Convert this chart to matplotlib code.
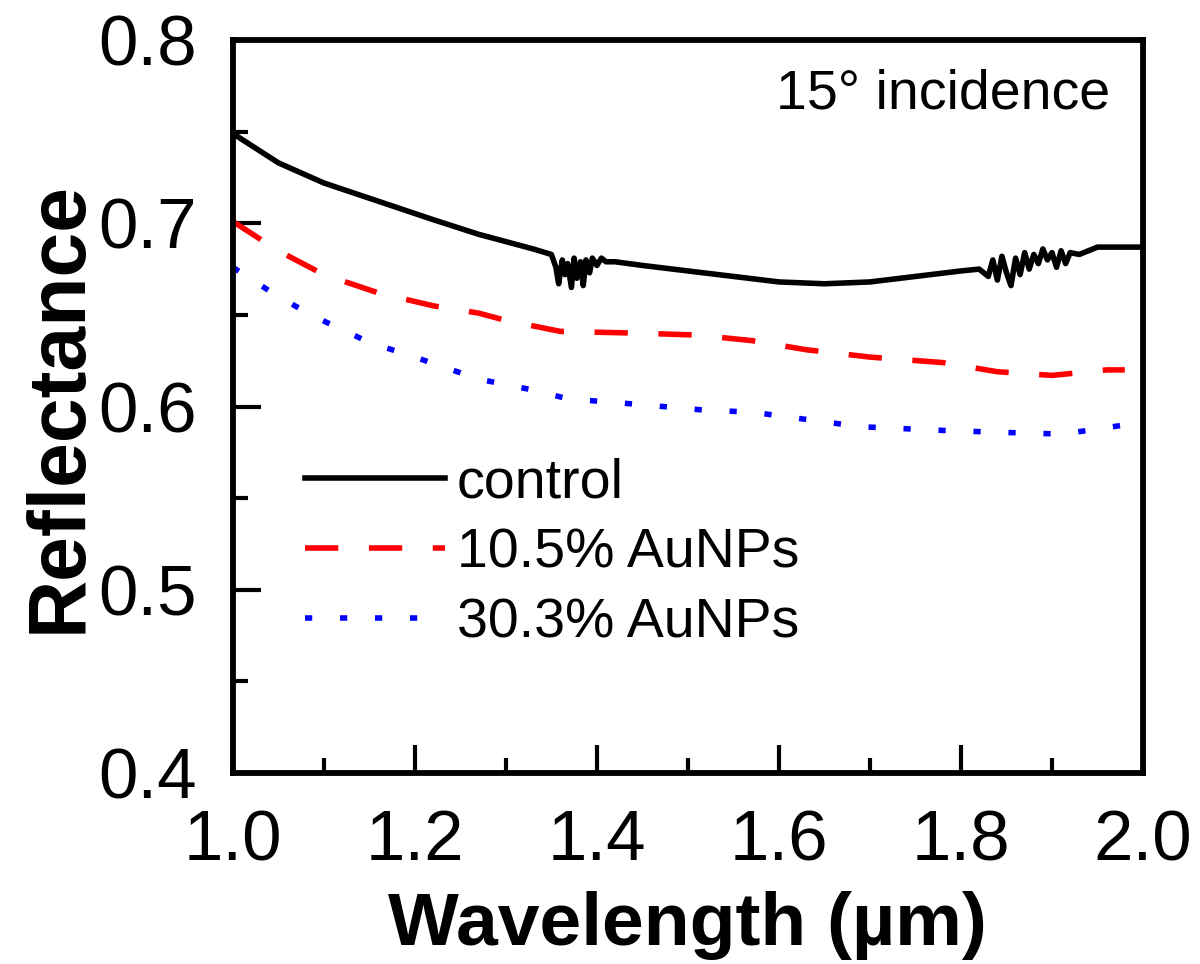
import matplotlib
matplotlib.use("Agg")
import matplotlib.pyplot as plt
from matplotlib.ticker import MultipleLocator

plt.rcParams['font.family'] = ['Liberation Sans', 'DejaVu Sans']

# control (noisy bands near 1.38 and 1.88 um)
wl_control = [1.00, 1.05, 1.10, 1.16, 1.22, 1.27, 1.30, 1.33, 1.350,
              1.355, 1.358, 1.362, 1.365, 1.368, 1.372, 1.375, 1.378, 1.382,
              1.385, 1.388, 1.392, 1.395, 1.400, 1.405, 1.410, 1.420,
              1.45, 1.50, 1.55, 1.60, 1.65, 1.70, 1.75, 1.80, 1.82,
              1.830, 1.835, 1.840, 1.845, 1.850, 1.855, 1.860, 1.865, 1.870,
              1.875, 1.880, 1.885, 1.890, 1.895, 1.900, 1.905, 1.910, 1.915,
              1.920, 1.930, 1.940, 1.950, 2.00]
r_control = [0.749, 0.733, 0.722, 0.712, 0.702, 0.694, 0.690, 0.686, 0.683,
             0.676, 0.667, 0.680, 0.672, 0.678, 0.665, 0.681, 0.670, 0.679,
             0.666, 0.680, 0.673, 0.681, 0.677, 0.681, 0.679, 0.679,
             0.677, 0.674, 0.671, 0.668, 0.667, 0.668, 0.671, 0.674, 0.675,
             0.671, 0.680, 0.669, 0.682, 0.673, 0.666, 0.681, 0.672, 0.684,
             0.675, 0.683, 0.678, 0.686, 0.680, 0.684, 0.676, 0.685, 0.678,
             0.684, 0.683, 0.685, 0.687, 0.687]

# 10.5% AuNPs
wl_105 = [1.00, 1.05, 1.10, 1.16, 1.22, 1.27, 1.30, 1.36, 1.45, 1.51, 1.57,
          1.63, 1.70, 1.78, 1.84, 1.90, 1.96, 1.98]
r_105 = [0.701, 0.685, 0.672, 0.662, 0.655, 0.651, 0.647, 0.641, 0.640, 0.639,
         0.636, 0.631, 0.627, 0.624, 0.619, 0.617, 0.620, 0.620]

# 30.3% AuNPs
wl_303 = [1.00, 1.05, 1.09, 1.15, 1.20, 1.27, 1.33, 1.37, 1.40, 1.45, 1.52,
          1.57, 1.63, 1.69, 1.78, 1.84, 1.91, 1.94, 1.98]
r_303 = [0.676, 0.660, 0.649, 0.635, 0.627, 0.615, 0.609, 0.604, 0.603, 0.601,
         0.598, 0.597, 0.593, 0.589, 0.587, 0.586, 0.585, 0.587, 0.590]

labels = ['control', '10.5% AuNPs', '30.3% AuNPs']

fig = plt.figure(figsize=(12, 9.64), dpi=100)
ax = fig.add_axes([0.194, 0.198, 0.7585, 0.7605])

ax.plot(wl_control, r_control, color='black', lw=4, label=labels[0])
ax.plot(wl_105, r_105, color='#ff0000', lw=4, dashes=(6.0, 5.5), label=labels[1])
ax.plot(wl_303, r_303, color='#0000ff', lw=4, dashes=(1.3, 5.0), label=labels[2])

ax.set_xlim(1.0, 2.0)
ax.set_ylim(0.4, 0.8)
ax.xaxis.set_major_locator(MultipleLocator(0.2))
ax.xaxis.set_minor_locator(MultipleLocator(0.1))
ax.yaxis.set_major_locator(MultipleLocator(0.1))
ax.yaxis.set_minor_locator(MultipleLocator(0.05))
ax.xaxis.set_major_formatter(plt.FuncFormatter(lambda v, p: f'{v:.1f}'))
ax.yaxis.set_major_formatter(plt.FuncFormatter(lambda v, p: f'{v:.1f}'))

ax.tick_params(which='both', direction='in', top=False, right=False, width=3)
ax.tick_params(which='major', length=20, labelsize=51, pad=26)
ax.tick_params(which='minor', length=11)
for s in ax.spines.values():
    s.set_linewidth(4.2)

ax.set_xlabel('Wavelength (\u00b5m)', fontsize=54, fontweight='bold', labelpad=11)
ax.set_ylabel('Reflectance', fontsize=58, fontweight='bold', labelpad=0)

ax.text(0.964, 0.907, '15\u00b0 incidence', transform=ax.transAxes,
        ha='right', va='baseline', fontsize=40)

ax.legend(loc='upper left', bbox_to_anchor=(0.079, 0.431), frameon=False,
          fontsize=40, handlelength=2.52, handletextpad=0.22,
          labelspacing=0.33, borderpad=0, borderaxespad=0)

fig.savefig('out.png', dpi=100)
